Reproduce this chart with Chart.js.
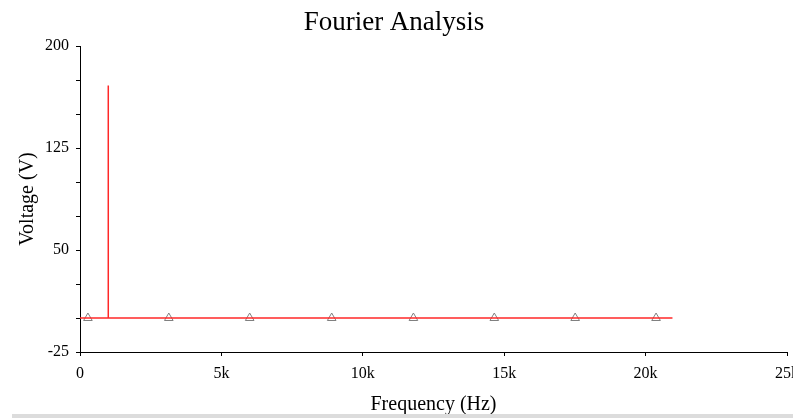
<!DOCTYPE html>
<html>
<head>
<meta charset="utf-8">
<script src="https://cdn.jsdelivr.net/npm/chart.js@4/dist/chart.umd.min.js"></script>
<style>
  body { margin: 0; background: #fff; }
  #wrap { position: relative; width: 793px; height: 419px; }
  #bar { position: absolute; left: 12px; top: 414px; width: 781px; height: 4px; background: #dcdcdc; }
</style>
</head>
<body>
<div id="wrap">
  <canvas id="grafica" width="793" height="419"></canvas>
  <div id="bar"></div>
</div>
<script>
// spectrum trace (Hz, V)
const freq = [0, 1000, 1000, 1000, 20950];
const volts = [0, 0, 171, 0, 0];
// triangle markers along the trace
const markerFreq = [280, 3140, 6000, 8900, 11790, 14650, 17510, 20370];
const markerVolts = [0, 0, 0, 0, 0, 0, 0, 0];
// axis ticks
const xTicks = [0, 5000, 10000, 15000, 20000, 25000];
const xTickLabels = ['0', '5k', '10k', '15k', '20k', '25k'];
const yTickLabels = [-25, 50, 125, 200];

const serif = "'Liberation Serif', 'Times New Roman', serif";

const trace = freq.map((f, i) => ({ x: f, y: volts[i] }));
const markers = markerFreq.map((f, i) => ({ x: f, y: markerVolts[i] }));

const data = {
  datasets: [{
    label: 'Voltage',
    data: trace,
    borderColor: 'rgb(255,40,40)',
    borderWidth: 1.5,
    pointRadius: 0,
    showLine: true,
    tension: 0
  }, {
    label: 'markers',
    data: markers,
    showLine: false,
    pointStyle: 'triangle',
    pointRadius: 5,
    pointBorderColor: '#808080',
    pointBackgroundColor: 'rgba(0,0,0,0)',
    pointBorderWidth: 1
  }]
};

const config = {
  type: 'scatter',
  data: data,
  options: {
    responsive: false,
    animation: false,
    layout: { padding: { left: 0, right: 5, top: 0, bottom: 0 } },
    plugins: {
      legend: { display: false },
      tooltip: { enabled: false },
      title: {
        display: true,
        text: 'Fourier Analysis',
        color: '#000',
        font: { family: serif, size: 27, weight: 'normal' },
        padding: { top: 7, bottom: 6.6 }
      }
    },
    scales: {
      x: {
        type: 'linear',
        min: 0,
        max: 25000,
        afterBuildTicks: (s) => { s.ticks = xTicks.map(v => ({ value: v })); },
        afterFit: (s) => { s.height = 67; s.paddingRight = 0; },
        ticks: {
          color: '#000',
          font: { family: serif, size: 16 },
          padding: 8,
          maxRotation: 0,
          callback: (v) => xTickLabels[xTicks.indexOf(v)]
        },
        grid: { drawOnChartArea: false, drawTicks: true, tickLength: 4, color: '#000' },
        border: { display: true, color: '#000', width: 1 },
        title: {
          display: true,
          text: 'Frequency (Hz)',
          color: '#000',
          font: { family: serif, size: 20 },
          padding: { top: 0, bottom: 2 }
        }
      },
      y: {
        min: -25,
        max: 200,
        afterFit: (s) => { s.width = 80; },
        ticks: {
          stepSize: 25,
          color: '#000',
          font: { family: serif, size: 16 },
          padding: 7,
          callback: (v) => yTickLabels.includes(v) ? String(v) : ''
        },
        grid: { drawOnChartArea: false, drawTicks: true, tickLength: 4, color: '#000' },
        border: { display: true, color: '#000', width: 1 },
        title: {
          display: true,
          text: 'Voltage (V)',
          color: '#000',
          font: { family: serif, size: 20 },
          padding: { top: 16, bottom: 0 }
        }
      }
    }
  }
};

const graph = document.getElementById('grafica');
const grafico = new Chart(graph, config);
</script>
</body>
</html>
